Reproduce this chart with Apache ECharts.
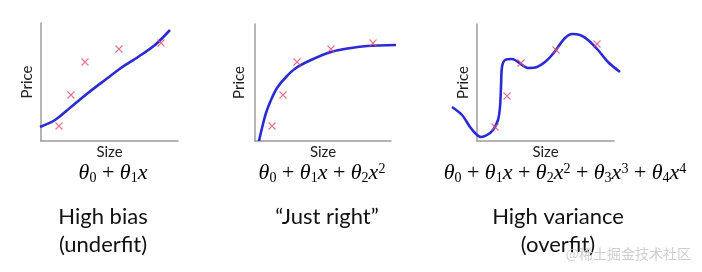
<!DOCTYPE html>
<html><head><meta charset="utf-8">
<script src="https://cdn.jsdelivr.net/npm/echarts@6/dist/echarts.min.js"></script>
<style>html,body{margin:0;padding:0;background:#fff}#c{width:702px;height:272px}</style>
</head><body><div id="c"></div>
<script>
// Training points (size, price) in each panel
const pointSize1 = [18, 30, 44, 78, 120];
const pointSize2 = [17, 28, 42, 76, 118];
const pointSize3 = [18, 30, 44, 79, 120];
const pointPrice = [15, 46, 79, 92, 98];
const pointPrice3 = [14, 45, 78, 91, 97];

// Fitted curves
const fit1X = [-1, 14, 30, 47, 64, 80, 97, 114, 129];
const fit1Y = [14, 21, 34, 48, 61, 73, 84, 96, 111];
const fit2X = [4, 7, 11, 16, 22, 31, 41, 56, 76, 96, 112, 141];
const fit2Y = [0, 13, 28, 41, 53, 64, 73, 81, 89, 93, 95, 96];
const fit3X = [-25, -15, -7, -1, 4, 10, 16, 21, 23, 24, 25, 28, 35, 45, 51, 60, 68, 75, 81, 88, 95, 103, 111, 121, 131, 143];
const fit3Y = [34, 26, 14, 7, 4, 6, 11, 21, 34, 54, 74, 81, 82, 76, 73, 74, 79, 86, 94, 103, 107, 106, 101, 91, 79, 69];

const titles = ['High bias\n(underfit)', '\u201cJust right\u201d', 'High variance\n(overfit)'];
const axisNameX = 'Size';
const axisNameY = 'Price';

const zip = (a, b) => a.map((v, i) => [v, b[i]]);

// axis frames of the three panels
const frames = [
  {left: 41, top: 23, width: 137, height: 118},
  {left: 255, top: 24, width: 136, height: 117},
  {left: 477, top: 24, width: 137, height: 117}
];
// plotting area (same scale, wider so curves can overhang the axes)
const X_LO = -30, X_HI = 150, Y_LO = -5, Y_HI = 125;
const plots = frames.map(f => ({
  left: f.left + X_LO, top: f.top + f.height - Y_HI,
  width: X_HI - X_LO, height: Y_HI - Y_LO
}));

const axisStyle = {lineStyle: {color: '#9c9c9c', width: 1.5}};
const nameStyle = {fontFamily: 'Lato', fontSize: 15, color: '#222'};
const hidden = {show: false};

const xAxes = frames.map((g, i) => ({
  type: 'value', gridIndex: i, min: 0, max: g.width,
  axisLine: axisStyle, axisTick: hidden, axisLabel: hidden, splitLine: hidden,
  name: axisNameX, nameLocation: 'middle', nameGap: 4, nameTextStyle: nameStyle
})).concat(plots.map((g, i) => ({
  type: 'value', gridIndex: 3 + i, min: X_LO, max: X_HI, show: false
})));
const yAxes = frames.map((g, i) => ({
  type: 'value', gridIndex: i, min: 0, max: g.height,
  axisLine: axisStyle, axisTick: hidden, axisLabel: hidden, splitLine: hidden,
  name: axisNameY, nameLocation: 'middle', nameGap: i === 1 ? 8 : 6, nameTextStyle: nameStyle
})).concat(plots.map((g, i) => ({
  type: 'value', gridIndex: 3 + i, min: Y_LO, max: Y_HI, show: false
})));

const fits = [zip(fit1X, fit1Y), zip(fit2X, fit2Y), zip(fit3X, fit3Y)];
const pts = [zip(pointSize1, pointPrice), zip(pointSize2, pointPrice), zip(pointSize3, pointPrice3)];

const series = [];
fits.forEach((d, i) => series.push({
  type: 'line', xAxisIndex: 3 + i, yAxisIndex: 3 + i, data: d, smooth: 0.3,
  showSymbol: false, lineStyle: {color: '#2b2bd6', width: 2.6}, z: 2, silent: true
}));
pts.forEach((d, i) => series.push({
  type: 'scatter', xAxisIndex: 3 + i, yAxisIndex: 3 + i, data: d,
  symbol: 'path://M0,0L10,10M10,0L0,10', symbolSize: 7,
  itemStyle: {color: 'none', borderColor: '#e0506a', borderWidth: 1.1}, z: 3, silent: true
}));

const F = 'Liberation Serif';
const mathRich = {
  t: {fontFamily: F, fontStyle: 'italic', fontSize: 22, color: '#222', lineHeight: 26, verticalAlign: 'middle'},
  v: {fontFamily: F, fontStyle: 'italic', fontSize: 22, color: '#222', lineHeight: 26, verticalAlign: 'middle'},
  o: {fontFamily: F, fontSize: 22, color: '#222', lineHeight: 26, verticalAlign: 'middle'},
  s: {fontFamily: F, fontSize: 14, color: '#222', lineHeight: 26, verticalAlign: 'bottom', padding: [0, 0, 1, 0]},
  p: {fontFamily: F, fontSize: 14, color: '#222', lineHeight: 26, verticalAlign: 'top', padding: [2, 0, 0, 0]}
};
const formulas = [
  '{t|θ}{s|0}{o| + }{t|θ}{s|1}{v|x}',
  '{t|θ}{s|0}{o| + }{t|θ}{s|1}{v|x}{o| + }{t|θ}{s|2}{v|x}{p|2}',
  '{t|θ}{s|0}{o| + }{t|θ}{s|1}{v|x}{o| + }{t|θ}{s|2}{v|x}{p|2}{o| + }{t|θ}{s|3}{v|x}{p|3}{o| + }{t|θ}{s|4}{v|x}{p|4}'
];
const formulaX = [113, 322, 565];
const titleX = [103, 327, 558];

const graphic = [];
formulas.forEach((f, i) => graphic.push({
  type: 'text', x: formulaX[i], y: 173,
  style: {text: f, rich: mathRich, align: 'center', verticalAlign: 'middle'}
}));
titles.forEach((t, i) => graphic.push({
  type: 'text', x: titleX[i], y: 203,
  style: {text: t, fontFamily: 'Lato', fontSize: 22, lineHeight: 28, fill: '#111', align: 'center', verticalAlign: 'top'}
}));
graphic.push({
  type: 'text', x: 691, y: 254,
  style: {text: '@稀土掘金技术社区', fontFamily: 'Noto Sans CJK SC', fontSize: 14, fill: '#cfcfcf', align: 'right', verticalAlign: 'middle'}
});

const chart = echarts.init(document.getElementById('c'), null, {renderer: 'canvas'});
chart.setOption({
  animation: false,
  backgroundColor: '#fff',
  grid: frames.concat(plots),
  xAxis: xAxes,
  yAxis: yAxes,
  series: series,
  graphic: graphic
});
</script>
</body></html>
